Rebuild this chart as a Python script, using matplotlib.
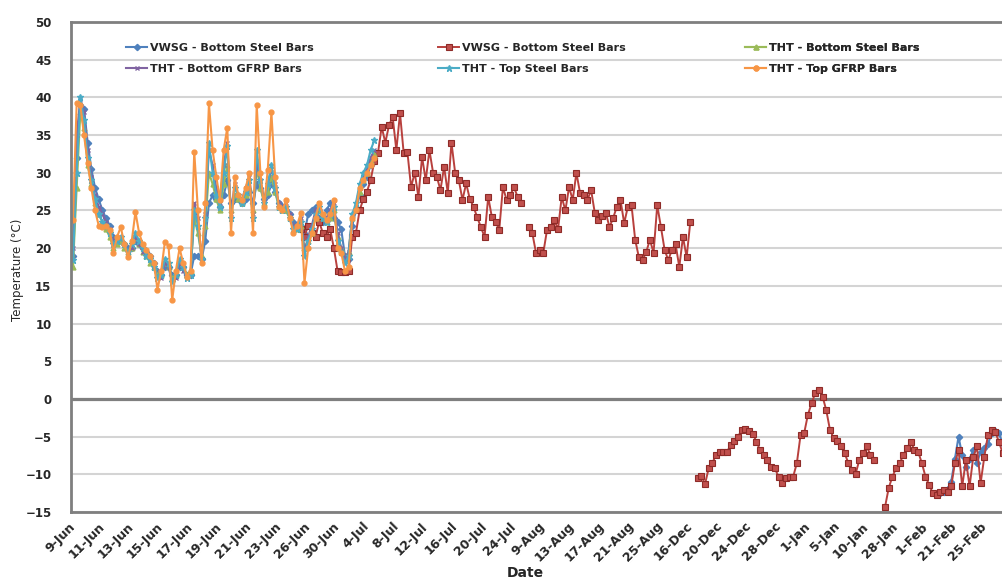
import numpy as np
import matplotlib
matplotlib.use("Agg")
import matplotlib.pyplot as plt

nan = np.nan

# ---------------- data ----------------
date_labels = ['9-Jun', '11-Jun', '13-Jun', '15-Jun', '17-Jun', '19-Jun', '21-Jun', '23-Jun',
               '26-Jun', '30-Jun', '4-Jul', '8-Jul', '12-Jul', '16-Jul', '20-Jul', '24-Jul',
               '9-Aug', '13-Aug', '17-Aug', '21-Aug', '25-Aug', '16-Dec', '20-Dec', '24-Dec',
               '28-Dec', '1-Jan', '5-Jan', '10-Jan', '28-Jan', '1-Feb', '21-Feb', '25-Feb']
readings_per_label = 8
n_readings = 256

# THT - Top GFRP Bars (readings 0..82)
tht_top_gfrp = [23.7, 39.2, 39, 35, 31.3, 28, 25, 23, 22.8, 23,
                22.4, 19.4, 21.5, 22.8, 20.5, 18.8, 21, 24.8, 22, 20.5,
                19.8, 19, 18, 14.5, 17, 20.8, 20.3, 13.1, 17, 20,
                18, 16.2, 17, 32.8, 25, 18, 26, 39.2, 33, 29.5,
                26.4, 33, 36, 22, 29.5, 27, 26.4, 28, 30, 22,
                39, 30, 25.5, 30.4, 38, 29.5, 25.5, 25, 26.4, 24,
                22, 23, 24.7, 15.4, 20, 22, 24, 26, 24.5, 23.7,
                24.5, 26.4, 20, 19.4, 17, 17.5, 24, 25, 28, 29,
                30, 31, 32]
# THT - Top Steel Bars
tht_top_steel = [18.4, 30, 40, 37, 32, 29, 26.5, 24.5, 23.5, 23,
                 22, 20.5, 21, 21.5, 20.5, 19.5, 20.5, 22, 21, 20,
                 19, 18.5, 17.5, 16, 16.5, 18.5, 18, 15.5, 16.5, 18.5,
                 17.5, 16, 16.5, 25, 23, 18.5, 24, 34, 30, 27,
                 25.5, 30, 33.5, 24, 28, 27, 26, 27.5, 29, 24,
                 33, 29, 26, 28.5, 31, 28, 25.5, 25, 25.5, 24,
                 22.5, 22.5, 23.5, 19, 21, 22.5, 24.5, 25.5, 24, 23.5,
                 24.5, 25.5, 21, 19.5, 18, 19, 24.5, 26, 28.5, 30,
                 31, 33, 34.3]
# THT - Bottom Steel Bars
tht_bottom_steel = [17.5, 28, 38, 36, 31, 28.5, 26, 24.5, 23.5, 22.5,
                    21.5, 20, 20.5, 21, 20, 19.5, 20, 21.5, 20.5, 19.5,
                    19, 18, 17.5, 16.5, 16.5, 18, 17.5, 16, 16.5, 18,
                    17.5, 16.5, 17, 24, 22, 19, 23, 30, 28.5, 26.5,
                    25, 28.5, 31, 25, 27, 26.5, 26, 27, 28, 25,
                    30.5, 28, 26, 27.5, 29.5, 27.5, 25.5, 25, 25, 24,
                    23, 22.5, 23, 20, 21, 22, 24, 25, 24, 23.5,
                    24, 25, 21.5, 20, 18.5, 19.5, 24, 25.5, 27.5, 29,
                    30, 31.5, 32.5]
# THT - Bottom GFRP Bars
tht_bottom_gfrp = [20, 35, 39.8, 38, 33, 29.5, 27, 25.5, 24.5, 23.5,
                   22.5, 21, 21, 21.5, 20.5, 19.5, 20, 21.5, 20.5, 19.5,
                   19, 18.5, 17.5, 16, 16, 18, 17.5, 15.5, 16, 18,
                   17, 16, 16.5, 26, 24, 18.5, 24.5, 33, 31, 28,
                   26, 31, 34, 24.5, 28.5, 27, 26.5, 28, 29.5, 24.5,
                   31.5, 29, 26.5, 28.5, 30.5, 28.5, 26, 25.5, 26, 24.5,
                   23, 23, 24, 19.5, 21.5, 23, 25, 26, 24.5, 24,
                   25, 26, 22, 20, 18.5, 19.5, 24, 25.5, 28, 29.5,
                   30.5, 32, 33]
# VWSG - Bottom Steel Bars (blue), summer readings 0..82
vwsg_blue_summer = [19, 32, 39, 38.5, 34, 30.5, 28, 26.5, 25, 24,
                    23, 21.5, 21, 21, 20.5, 20, 20, 21, 20.5, 20,
                    19.5, 19, 18, 17, 16.5, 17.5, 17.5, 16.5, 16.5, 17.5,
                    17.5, 16.5, 16.5, 19, 19, 18.5, 21, 26, 27, 26.5,
                    25.5, 27, 29, 26, 26.5, 26.5, 26, 26.5, 27.5, 26,
                    28.5, 28, 26.5, 27, 28.5, 27.5, 26, 25.5, 25, 24.5,
                    23.5, 23, 23, 22, 24.5, 25, 25.5, 24, 23.5, 25,
                    26, 24, 23.5, 22.5, 19, 18.5, 23, 25, 27, 28.5,
                    29.5, 31, 32]
# VWSG - Bottom Steel Bars (blue), February readings 236..255
vwsg_blue_feb = [-12.5, -12.3, -12, -11, -8, -5, -7.5, -9, -8, -6.8,
                 -8.5, -7, -6.5, -6, -4.5, -4.2, -4.5, -6, -7.5, -9]
# VWSG - Bottom Steel Bars (red): readings 62..122
vwsg_red_jul = [22.5, 21.5, 23, 22, 21.5, 23.5, 22, 21.5, 22.5, 20,
                17, 16.8, 16.8, 17, 21.5, 22, 25, 26.5, 27.5, 29,
                31.5, 32.6, 36.1, 34, 36.3, 37.4, 33, 37.9, 32.6, 32.8,
                28.1, 30, 26.8, 32.1, 29, 33, 30, 29.5, 27.7, 30.8,
                27.3, 34, 30, 29, 26.4, 28.6, 26.5, 25.5, 24.1, 22.8,
                21.5, 26.8, 24.1, 23.5, 22.4, 28.1, 26.4, 27, 28.1, 26.8,
                26]
# readings 124..168
vwsg_red_aug = [22.8, 22, 19.4, 19.8, 19.4, 22.4, 22.8, 23.7, 22.5, 26.8,
                25, 28.1, 26.4, 30, 27.3, 27,
                26.4, 27.7, 24.7, 23.7, 24.2, 24.7, 22.8, 24, 25.5, 26.4,
                23.3, 25.5, 25.7, 21.1, 18.8, 18.4, 19.5, 21.1, 19.4, 25.7,
                22.8, 19.8, 18.4, 19.8, 20.5, 17.5, 21.5, 18.8, 23.5]
# readings 170..218
vwsg_red_dec = [-10.5, -10.2, -11.3, -9.2, -8.5, -7.4, -7, -7.1, -7, -6.1,
                -5.6, -5, -4.1, -4, -4.2, -4.6, -5.7, -6.8, -7.5, -8.1,
                -9, -9.2, -10.3, -11.2, -10.5, -10.3, -10.3, -8.5, -4.8, -4.5,
                -2.1, -0.6, 0.8, 1.2, 0.3, -1.5, -4.1, -5.2, -5.6, -6.3,
                -7.2, -8.5, -9.4, -9.9, -8.1, -7.2, -6.3, -7.4, -8.1]
# readings 221..255
vwsg_red_feb = [-14.3, -11.8, -10.3, -9.2, -8.5, -7.4, -6.5, -5.7, -6.8, -7,
                -8.5, -10.3, -11.4, -12.5, -12.7, -12.3, -12.1, -12.3, -11.6, -8.5,
                -6.8, -11.6, -8.1, -11.6, -7.7, -6.3, -11.2, -7.7, -4.8, -4.1,
                -4.4, -5.7, -7.2, -8.5, -9.8]

# first reading index of each segment
segment_start = {'summer': 0, 'blue_feb': 236, 'red_jul': 62, 'red_aug': 124,
                 'red_dec': 170, 'red_feb': 221}


def build(parts):
    arr = np.full(n_readings, np.nan)
    for start, vals in parts:
        arr[start:start + len(vals)] = vals
    return arr


x = np.arange(n_readings)
blue = build([(segment_start['summer'], vwsg_blue_summer), (segment_start['blue_feb'], vwsg_blue_feb)])
red = build([(segment_start['red_jul'], vwsg_red_jul), (segment_start['red_aug'], vwsg_red_aug),
             (segment_start['red_dec'], vwsg_red_dec), (segment_start['red_feb'], vwsg_red_feb)])
green = build([(0, tht_bottom_steel)])
purple = build([(0, tht_bottom_gfrp)])
teal = build([(0, tht_top_steel)])
orange = build([(0, tht_top_gfrp)])

# ---------------- figure ----------------
W, H = 1003, 581
fig = plt.figure(figsize=(W / 100, H / 100), dpi=100)
ax = fig.add_axes([71 / W, (H - 512) / H, (1010 - 71) / W, 490 / H])
ax.set_xlim(-0.54, 255)
ax.set_ylim(-15, 50)

ax.set_yticks(range(-15, 51, 5))
ax.yaxis.grid(True, color='#D4D4D4', lw=1.5)
ax.set_axisbelow(True)
ax.axhline(0, color='#7F7F7F', lw=2.3, zorder=1.5)
for s in ax.spines.values():
    s.set_color('#7F7F7F')
    s.set_linewidth(2)

lines = {}
lines['blue'], = ax.plot(x, blue, color='#4F81BD', lw=1.5, marker='D', ms=3.2,
                         mfc='#4F81BD', mec='#4F81BD', label='VWSG - Bottom Steel Bars')
lines['red'], = ax.plot(x, red, color='#B8403D', lw=1.4, marker='s', ms=4.0,
                        mfc='#C0504D', mec='#8E2B28', mew=0.8, label='VWSG - Bottom Steel Bars')
lines['green'], = ax.plot(x, green, color='#9BBB59', lw=1.5, marker='^', ms=3.5,
                          mfc='#9BBB59', mec='#9BBB59', label='THT - Bottom Steel Bars')
lines['purple'], = ax.plot(x, purple, color='#8064A2', lw=1.5, marker='x', ms=3.5,
                           mew=1.0, label='THT - Bottom GFRP Bars')
lines['teal'], = ax.plot(x, teal, color='#4BACC6', lw=1.5, marker='*', ms=4.5,
                         mfc='#4BACC6', mec='#4BACC6', label='THT - Top Steel Bars')
lines['orange'], = ax.plot(x, orange, color='#F79646', lw=1.5, marker='o', ms=3.5,
                           mfc='#F79646', mec='#F79646', label='THT - Top GFRP Bars')

# ticks
ax.set_xticks([readings_per_label * k for k in range(len(date_labels))])
ax.set_xticklabels(date_labels, rotation=45, ha='right', va='center',
                   rotation_mode='anchor', fontsize=9, fontweight='bold', color='#262626')
ax.tick_params(axis='x', length=0, pad=9)
ax.tick_params(axis='y', length=0, pad=14, labelsize=8.5, labelcolor='#262626')
for t in ax.get_yticklabels():
    t.set_fontweight('bold')

fig.text(18 / W, 1 - 270 / H, 'Temperature (°C)', rotation=90, ha='center', va='center',
         fontsize=8.5, color='#262626')
fig.text(525 / W, 1 - 573 / H, 'Date', ha='center', va='center', fontsize=10,
         fontweight='bold', color='#262626')

# legend: three columns placed individually
cols = [(['blue', 'purple'], 126), (['red', 'teal'], 438), (['green', 'orange'], 745)]
for keys, xpx in cols:
    leg = ax.legend([lines[k] for k in keys], [lines[k].get_label() for k in keys],
                    loc='center left', bbox_to_anchor=(xpx / W, 1 - 58.5 / H),
                    bbox_transform=fig.transFigure, frameon=False, borderpad=0,
                    borderaxespad=0, handlelength=1.9, handletextpad=0.3,
                    labelspacing=0.95, prop={'size': 8, 'weight': 'bold'}, labelcolor='#262626')
    ax.add_artist(leg)

fig.savefig('out.png', dpi=100, facecolor='white')
